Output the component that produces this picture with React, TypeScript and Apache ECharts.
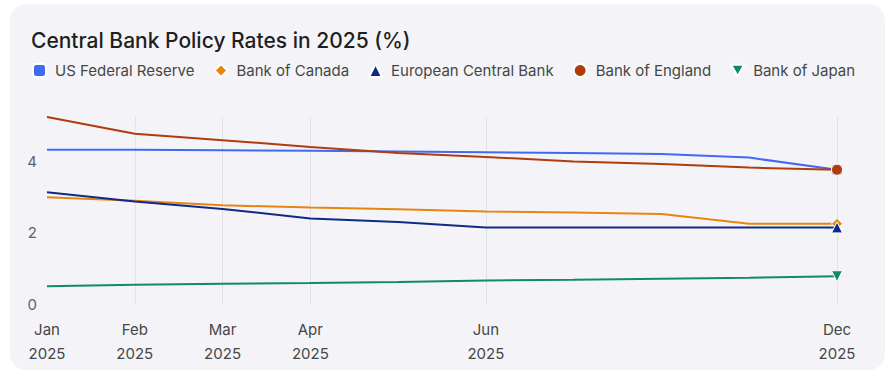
import React, { useEffect, useRef } from 'react';
import * as echarts from 'echarts';

const categories = ['Jan 2025', 'Feb 2025', 'Mar 2025', 'Apr 2025', 'May 2025', 'Jun 2025', 'Jul 2025', 'Sep 2025', 'Oct 2025', 'Dec 2025'];
const labeledIndex = [0, 1, 2, 3, 5, 9];
const gridIndex = [1, 2, 3, 5, 9];

const seriesNames = ['US Federal Reserve', 'Bank of Canada', 'European Central Bank', 'Bank of England', 'Bank of Japan'];
const usFed = [4.33, 4.33, 4.32, 4.3, 4.28, 4.26, 4.24, 4.21, 4.11, 3.77];
const canada = [3.0, 2.9, 2.77, 2.71, 2.66, 2.6, 2.57, 2.53, 2.25, 2.25];
const ecb = [3.14, 2.88, 2.67, 2.4, 2.3, 2.15, 2.15, 2.15, 2.15, 2.15];
const england = [5.25, 4.78, 4.6, 4.41, 4.24, 4.13, 4.0, 3.93, 3.83, 3.77];
const japan = [0.5, 0.54, 0.57, 0.59, 0.62, 0.66, 0.68, 0.71, 0.74, 0.78];

const seriesValues = [usFed, canada, ecb, england, japan];
const colors = ['#4169F2', '#E8850E', '#0E2A88', '#B03B0B', '#13896B'];
const symbols = ['roundRect', 'diamond', 'triangle', 'circle', 'path://M0,0L10,0L5,9Z'];

export default function App() {
  const ref = useRef<HTMLDivElement>(null);
  useEffect(() => {
    if (!ref.current) return;
    const chart = echarts.init(ref.current, undefined, { renderer: 'svg' });
    const last = categories.length - 1;
    chart.setOption({
      animation: false,
      backgroundColor: 'transparent',
      textStyle: { fontFamily: 'Inter' },
      title: {
        text: 'Central Bank Policy Rates in 2025 (%)',
        left: 31,
        top: 30,
        padding: 0,
        textStyle: { fontSize: 21, fontWeight: 500, color: '#1F1F1F', fontFamily: 'Inter' },
      },
      legend: {
        left: 32,
        top: 63,
        padding: 0,
        itemWidth: 13,
        itemHeight: 13,
        itemGap: 19,
        textStyle: { fontSize: 15, color: '#444746', fontFamily: 'Inter', padding: [0, 0, 0, 4] },
        data: seriesNames.map((n, i) => ({ name: n, icon: symbols[i] })),
      },
      grid: { left: 47, right: 55, top: 117, bottom: 71, containLabel: false },
      xAxis: {
        type: 'category',
        boundaryGap: false,
        data: categories,
        axisLine: { show: false },
        axisTick: { show: false },
        axisLabel: {
          interval: (i: number) => labeledIndex.includes(i),
          formatter: (v: string) => v.replace(' ', '\n'),
          fontSize: 15,
          lineHeight: 24,
          color: '#444746',
          margin: 13,
        },
        splitLine: {
          show: true,
          interval: (i: number) => gridIndex.includes(i),
          lineStyle: { color: '#E2E3E8', width: 1 },
        },
      },
      yAxis: {
        type: 'value',
        min: 0,
        max: 5.25,
        interval: 2,
        axisLine: { show: false },
        axisTick: { show: false },
        splitLine: { show: false },
        axisLabel: { fontSize: 15, color: '#5F6368', margin: 10, showMaxLabel: false },
      },
      series: seriesValues.map((vals, si) => ({
        name: seriesNames[si],
        type: 'line',
        symbol: symbols[si],
        showAllSymbol: true,
        color: colors[si],
        lineStyle: { width: 2, color: colors[si] },
        itemStyle: { color: colors[si], borderColor: '#FFFFFF', borderWidth: 1 },
        emphasis: { disabled: true },
        data: vals.map((v, i) =>
          i === last ? { value: v, symbol: symbols[si], symbolSize: 11 } : { value: v, symbol: 'none' }
        ),
      })),
    });
    return () => chart.dispose();
  }, []);
  return (
    <div style={{ position: 'fixed', left: 0, top: 0, width: 892, height: 375, background: '#FFFFFF' }}>
      <div
        style={{
          position: 'absolute',
          left: 10,
          top: 4,
          width: 875,
          height: 366,
          borderRadius: 16,
          background: '#F4F4F8',
        }}
      />
      <div ref={ref} style={{ position: 'absolute', left: 0, top: 0, width: 892, height: 375 }} />
    </div>
  );
}
